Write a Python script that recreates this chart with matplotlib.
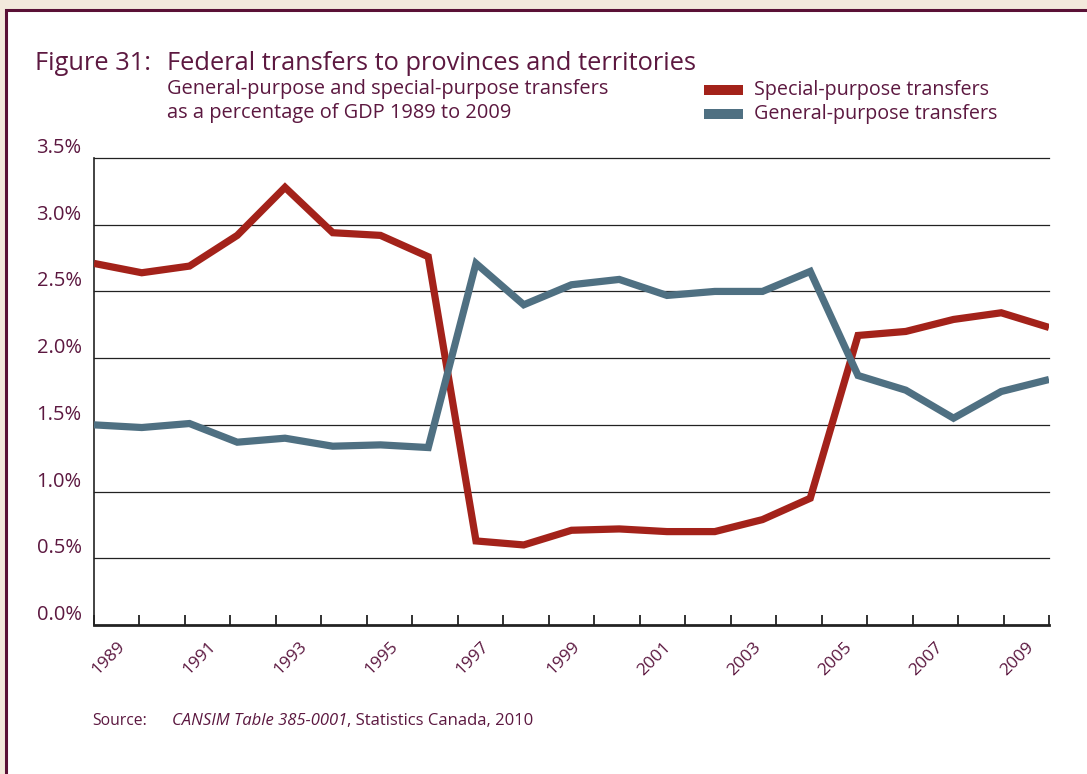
import matplotlib
matplotlib.use("Agg")
import matplotlib.pyplot as plt
from matplotlib.patches import Rectangle

# Data (% of GDP)
years = list(range(1989, 2010))
special = [2.71, 2.64, 2.69, 2.92, 3.28, 2.94, 2.92, 2.76, 0.63, 0.60, 0.71,
           0.72, 0.70, 0.70, 0.79, 0.95, 2.17, 2.20, 2.29, 2.34, 2.23]
general = [1.50, 1.48, 1.51, 1.37, 1.40, 1.34, 1.35, 1.33, 2.71, 2.40, 2.55,
           2.59, 2.47, 2.50, 2.50, 2.65, 1.87, 1.76, 1.55, 1.75, 1.84]
year_labels = [str(y) for y in range(1989, 2010, 2)]
y_ticks = [0.0, 0.5, 1.0, 1.5, 2.0, 2.5, 3.0, 3.5]

RED = "#a3221a"
SLATE = "#4f7082"
TEXT = "#5c1840"
FRAME = "#5a1136"

plt.rcParams['font.family'] = ['Open Sans', 'DejaVu Sans']

W, H = 1087, 774
fig = plt.figure(figsize=(W / 100, H / 100), dpi=100)
fig.patch.set_facecolor("#f3e9dc")

# white panel with maroon border
fig.patches.append(Rectangle((6 / W, -0.1), 1.2, 1 - 10 / H + 0.1, transform=fig.transFigure,
                             facecolor="white", edgecolor=FRAME, lw=2.2, zorder=0))

ax = fig.add_axes([94 / W, 1 - 625 / H, (1049 - 94) / W, (625 - 158) / H], zorder=2)
ax.set_facecolor("white")

ax.plot(years, special, color=RED, lw=5.2, solid_joinstyle="miter", solid_capstyle="butt", zorder=3)
ax.plot(years, general, color=SLATE, lw=5.2, solid_joinstyle="miter", solid_capstyle="butt", zorder=3)

ax.set_xlim(1989, 2009)
ax.set_ylim(0, 3.5)

for v in y_ticks[1:]:
    ax.axhline(v, color="#222222", lw=0.9, clip_on=False, zorder=1)

for s in ["top", "right"]:
    ax.spines[s].set_visible(False)
ax.spines["left"].set_color("#222222")
ax.spines["left"].set_linewidth(1.2)
ax.spines["bottom"].set_color("#222222")
ax.spines["bottom"].set_linewidth(2)

# y labels sit just above their gridlines
ax.set_yticks(y_ticks)
ax.set_yticklabels([f"{v:.1f}%" for v in y_ticks], fontsize=14.5, color=TEXT, va="bottom")
ax.tick_params(axis="y", length=0, pad=9)

# x axis: category boundaries get tick marks, labels sit in every other category
n = len(years)
step = (years[-1] - years[0]) / n
ax.set_xticks([years[0] + k * step for k in range(n + 1)])
ax.set_xticklabels([])
ax.tick_params(axis="x", which="major", direction="in", length=7.5, width=1.3, color="#222222")
ax.set_xticks([years[0] + (k + 0.5) * step for k in range(0, n, 2)], minor=True)
ax.set_xticklabels(year_labels, minor=True, fontsize=12.5, color=TEXT,
                   rotation=45, ha="right", rotation_mode="anchor")
ax.tick_params(axis="x", which="minor", length=0, pad=10)

# titles
fig.text(35 / W, 1 - 70 / H, "Figure 31:", fontsize=18.3, color=TEXT, va="baseline")
fig.text(167 / W, 1 - 70 / H, "Federal transfers to provinces and territories",
         fontsize=18.3, color=TEXT, va="baseline")
fig.text(167 / W, 1 - 94 / H, "General-purpose and special-purpose transfers",
         fontsize=14.4, color=TEXT, va="baseline")
fig.text(167 / W, 1 - 118 / H, "as a percentage of GDP 1989 to 2009",
         fontsize=14.4, color=TEXT, va="baseline")

# legend
for i, (lab, col) in enumerate([("Special-purpose transfers", RED),
                                ("General-purpose transfers", SLATE)]):
    yc = 90 + i * 24
    fig.patches.append(Rectangle((704 / W, 1 - (yc + 4.5) / H), 39 / W, 9 / H,
                                 transform=fig.transFigure, facecolor=col, edgecolor="none"))
    fig.text(754 / W, 1 - (yc + 5) / H, lab, fontsize=14.2, color=TEXT, va="baseline")

# source
fig.text(92 / W, 1 - 725 / H, "Source:", fontsize=11.3, color=TEXT, va="baseline")
t2 = fig.text(172 / W, 1 - 725 / H, "CANSIM Table 385-0001", fontsize=12, color=TEXT,
              style="italic", va="baseline")
ax.annotate(", Statistics Canada, 2010", xy=(1, 0), xycoords=t2, va="bottom",
            fontsize=12, color=TEXT, annotation_clip=False)

fig.savefig("out.png", dpi=100, facecolor=fig.get_facecolor())
